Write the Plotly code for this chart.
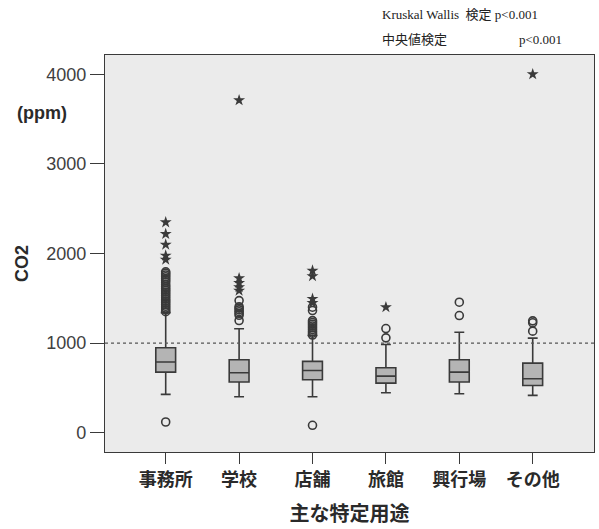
import plotly.graph_objects as go

# Building use categories
categories = ["事務所", "学校", "店舗", "旅館", "興行場", "その他"]

# Box statistics for CO2 (ppm)
q1 = [676, 565, 590, 553, 565, 527]
median = [788, 669, 694, 631, 676, 602]
q3 = [947, 813, 795, 724, 813, 776]
lower_whisker = [427, 401, 401, 446, 434, 416]
upper_whisker = [1340, 1159, 1084, 984, 1121, 1055]

# Outliers (circles) and extreme values (stars) per category
outliers = [
    [119, 1350, 1370, 1390, 1410, 1430, 1450, 1470, 1490, 1510, 1530, 1550,
     1570, 1590, 1610, 1630, 1650, 1680, 1700, 1720, 1740, 1760, 1780, 1795],
    [1251, 1310, 1330, 1350, 1370, 1390, 1405, 1474],
    [82, 1090, 1110, 1130, 1150, 1170, 1190, 1210, 1230, 1250, 1363, 1400],
    [1058, 1162],
    [1307, 1456],
    [1133, 1226, 1248],
]
extremes = [
    [1931, 1976, 2098, 2217, 2348],
    [1585, 1623, 1671, 1723, 3710],
    [1448, 1493, 1746, 1808],
    [1400],
    [],
    [4000],
]

reference_level = 1000
y_ticks = [0, 1000, 2000, 3000, 4000]

INK = "#3a3a3a"
JP = "Noto Sans CJK JP"
SANS = "Liberation Sans, Arial, sans-serif"
SERIF = "Liberation Serif, Noto Sans CJK JP, serif"

positions = list(range(len(categories)))

fig = go.Figure()

fig.add_trace(go.Box(
    x=positions,
    q1=q1, median=median, q3=q3,
    lowerfence=lower_whisker, upperfence=upper_whisker,
    width=0.27,
    whiskerwidth=0.5,
    fillcolor="#b4b4b4",
    line=dict(color=INK, width=1.6),
    boxpoints=False,
    showlegend=False,
    hoverinfo="skip",
))

ox, oy = [], []
for i, vals in enumerate(outliers):
    ox += [i] * len(vals)
    oy += vals
fig.add_trace(go.Scatter(
    x=ox, y=oy, mode="markers",
    marker=dict(symbol="circle-open", size=8, color=INK, line=dict(width=1.6, color=INK)),
    showlegend=False, hoverinfo="skip",
))

sx, sy = [], []
for i, vals in enumerate(extremes):
    sx += [i] * len(vals)
    sy += vals
fig.add_trace(go.Scatter(
    x=sx, y=sy, mode="markers",
    marker=dict(symbol="star", size=9, color=INK, line=dict(width=0)),
    showlegend=False, hoverinfo="skip",
))

# Reference line at 1000 ppm
fig.add_shape(type="line", xref="paper", x0=0, x1=1, yref="y",
              y0=reference_level, y1=reference_level,
              line=dict(color="#555555", width=1.2, dash="dot"))

fig.update_xaxes(
    range=[-0.827, 5.835],
    tickmode="array", tickvals=positions,
    ticktext=[f"<b>{c}</b>" for c in categories],
    ticks="outside", ticklen=11, tickwidth=1.3, tickcolor=INK,
    tickfont=dict(family=JP, size=18, color="#2a2a2a"),
    showline=True, linecolor=INK, linewidth=1.3, mirror=True,
    showgrid=False, zeroline=False,
    title=dict(text="<b>主な特定用途</b>", font=dict(family=JP, size=20, color="#2a2a2a"), standoff=17),
)
fig.update_yaxes(
    range=[-216, 4215],
    tickmode="array", tickvals=y_ticks, ticktext=[str(v) for v in y_ticks],
    ticks="outside", ticklen=14, tickwidth=1.3, tickcolor=INK,
    tickfont=dict(family=SANS, size=18, color="#404040"),
    showline=True, linecolor=INK, linewidth=1.3, mirror=True,
    showgrid=False, zeroline=False,
)

annotations = [
    dict(text="<b>(ppm)</b>", x=42, y=113, font=dict(family=SANS, size=18, color="#2a2a2a")),
    dict(text="<b>CO2</b>", x=22, y=264, textangle=-90, font=dict(family=SANS, size=18, color="#2a2a2a")),
    dict(text="Kruskal Wallis  検定 p&lt;0.001", x=380, y=14, xanchor="left",
         font=dict(family=SERIF, size=13, color="#222222")),
    dict(text="中央値検定", x=380, y=40, xanchor="left",
         font=dict(family=SERIF, size=13, color="#222222")),
    dict(text="p&lt;0.001", x=517, y=40, xanchor="left",
         font=dict(family=SERIF, size=13, color="#222222")),
]
W, H = 599, 529
for a in annotations:
    fig.add_annotation(
        text=a["text"], xref="paper", yref="paper",
        x=(a["x"] - 105) / (W - 105 - 5), y=1 - (a["y"] - 55) / (H - 55 - 77),
        xanchor=a.get("xanchor", "center"), yanchor="middle",
        textangle=a.get("textangle", 0), font=a["font"], showarrow=False,
    )

fig.update_layout(
    width=W, height=H,
    margin=dict(l=105, r=5, t=55, b=77),
    plot_bgcolor="#ebebeb",
    paper_bgcolor="white",
)

fig.write_html("out.html")
